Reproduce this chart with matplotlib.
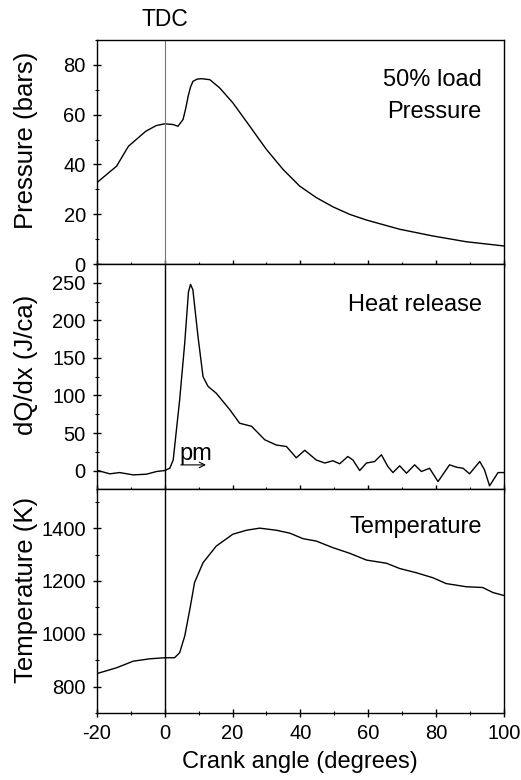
import matplotlib
matplotlib.use('Agg')
import matplotlib.pyplot as plt
from matplotlib.ticker import MultipleLocator

plt.rcParams['font.family'] = ['Liberation Sans', 'DejaVu Sans']
plt.rcParams['axes.unicode_minus'] = False

# ── Data ─────────────────────────────────────────────────────────────────────
p_ca = [-20, -14.2, -10.7, -5.6, -2.5, 0, 2.5, 3.9, 5.4, 6.2, 6.9, 7.6, 8.3, 9.5,
        10.8, 13.3, 16.2, 20.1, 25.1, 30, 34.9, 39.8, 44.7, 49.6, 54.5, 59.5,
        69.3, 79.1, 88.9, 100]
pressure = [32.7, 39.3, 47.3, 53.3, 55.6, 56.3, 56, 55.3, 58, 62.5, 67.3, 71, 73.3, 74.2,
            74.4, 74, 70.7, 64.7, 55.3, 46, 38, 31.3, 26.7, 23, 20, 17.7,
            14, 11.3, 9, 7.3]

q_ca = [-19.7, -16.2, -13.3, -9.3, -5.4, -2.4, 0, 1.5, 2.5, 4.4, 5.9, 7.0, 7.6, 8.3,
        9.8, 11.3, 12.8, 15.2, 19.2, 22.1, 25.6, 29.5, 32.9, 35.9, 38.8, 41.3,
        44.7, 47.2, 49.6, 51.6, 54, 55.5, 57.5, 59.5, 61.9, 63.9, 65.8, 67.3,
        69.3, 71.3, 73.7, 75.7, 78.1, 80.6, 84, 86, 88, 89.9, 92.9, 94.3, 95.8,
        98.3, 100]
heat = [0, -4.4, -2.7, -5.8, -4.9, -1.3, 0, 3.1, 14, 94, 170, 238, 248, 241,
        179, 125, 112, 103, 81, 63, 59, 41, 34, 32, 17, 27,
        14, 10, 13, 9, 18.7, 14, 0, 10, 12, 21, 5.4, -2.7,
        6.3, -3.6, 7.6, -1.3, 3, -14.7, 7.6, 4.5, 3, -4.4, 12, 1, -20.4,
        -2.7, -2.7]

t_ca = [-20, -14.2, -9.3, -4.4, 0, 2.9, 4.4, 5.9, 7.4, 8.8, 11.3, 15.2, 20.1,
        24.1, 28, 32.9, 36.9, 40.8, 44.7, 49.6, 54.5, 59.5, 65.4, 69.3, 74.2,
        79.1, 83, 88.9, 93.8, 96.8, 100]
temperature = [849, 871, 896, 905, 909, 909, 928, 991, 1092, 1194, 1269, 1332, 1377,
               1392, 1400, 1392, 1381, 1360, 1351, 1326, 1305, 1279, 1267, 1247, 1231,
               1212, 1190, 1178, 1175, 1156, 1145]

fig, axes = plt.subplots(3, 1, figsize=(5.21, 7.80), dpi=100, sharex=True)
fig.subplots_adjust(left=0.186, right=0.967, top=0.949, bottom=0.086, hspace=0)
ax1, ax2, ax3 = axes

ax1.plot(p_ca, pressure, color='black', lw=1.0)
ax2.plot(q_ca, heat, color='black', lw=1.0)
ax3.plot(t_ca, temperature, color='black', lw=1.0)

ax1.axvline(0, color='#777777', lw=0.8)
ax2.axvline(0, color='black', lw=1.0)
ax3.axvline(0, color='black', lw=1.0)

ax1.set_ylim(0, 90)
ax2.set_ylim(-24, 275)
ax3.set_ylim(700, 1550)
ax3.set_xlim(-20, 100)

ax1.yaxis.set_major_locator(MultipleLocator(20))
ax1.yaxis.set_minor_locator(MultipleLocator(10))
ax2.yaxis.set_major_locator(MultipleLocator(50))
ax2.yaxis.set_minor_locator(MultipleLocator(25))
ax3.yaxis.set_major_locator(MultipleLocator(200))
ax3.yaxis.set_minor_locator(MultipleLocator(100))
ax3.xaxis.set_major_locator(MultipleLocator(20))
ax3.xaxis.set_minor_locator(MultipleLocator(10))

for ax in axes:
    for sp in ax.spines.values():
        sp.set_linewidth(1.0)
    ax.tick_params(which='major', direction='inout', length=6, width=1.0,
                   labelsize=14.5, pad=5, top=False, bottom=True)
    ax.tick_params(which='minor', direction='inout', length=3, width=0.8)

ax1.set_ylabel('Pressure (bars)', fontsize=18.5)
ax2.set_ylabel('dQ/dx (J/ca)', fontsize=18.5)
ax3.set_ylabel('Temperature (K)', fontsize=18.5)
for ax in axes:
    ax.yaxis.set_label_coords(-0.145, 0.55)
ax3.set_xlabel('Crank angle (degrees)', fontsize=17, labelpad=6)

ax1.text(0.946, 0.75, '50% load\nPressure', transform=ax1.transAxes,
         ha='right', va='center', fontsize=17, linespacing=1.55)
ax2.text(0.946, 0.82, 'Heat release', transform=ax2.transAxes,
         ha='right', va='center', fontsize=17)
ax3.text(0.946, 0.83, 'Temperature', transform=ax3.transAxes,
         ha='right', va='center', fontsize=17)

ax1.text(0, 1.089, 'TDC', transform=ax1.get_xaxis_transform(),
         ha='center', va='center', fontsize=16.5)

ax2.text(4.2, 8, 'pm', ha='left', va='bottom', fontsize=17)
ax2.annotate('', xy=(13, 7.5), xytext=(3.9, 7.5),
             arrowprops=dict(arrowstyle='->', lw=0.8, color='black'))

fig.savefig('out.png', dpi=100)
